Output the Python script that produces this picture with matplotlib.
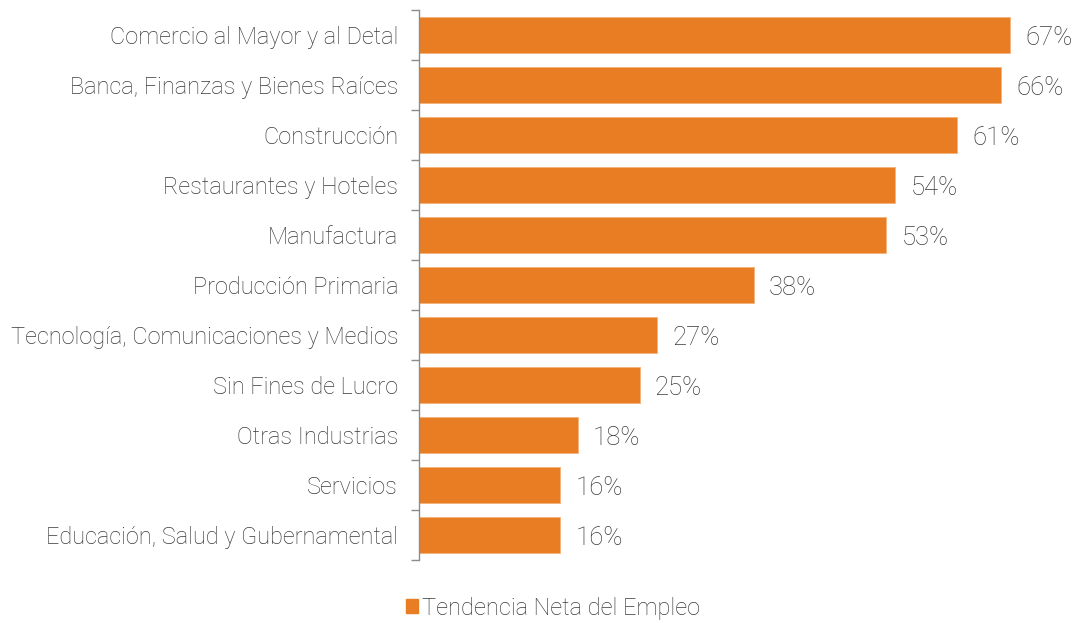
import matplotlib
matplotlib.use("Agg")
import matplotlib.pyplot as plt
from matplotlib.patches import Patch

categories = [
    "Comercio al Mayor y al Detal",
    "Banca, Finanzas y Bienes Raíces",
    "Construcción",
    "Restaurantes y Hoteles",
    "Manufactura",
    "Producción Primaria",
    "Tecnología, Comunicaciones y Medios",
    "Sin Fines de Lucro",
    "Otras Industrias",
    "Servicios",
    "Educación, Salud y Gubernamental",
]
values = [67, 66, 61, 54, 53, 38, 27, 25, 18, 16, 16]
series_name = "Tendencia Neta del Empleo"

orange = "#E87D24"
text_col = "#3a3a3a"
plt.rcParams["font.family"] = ["Roboto", "DejaVu Sans"]

fig = plt.figure(figsize=(10.77, 6.23), dpi=100)
ax = fig.add_axes([419 / 1077, 1 - 560 / 623, 1 - 419 / 1077, 550 / 623])

y = list(range(len(categories)))
ax.barh(y, values, height=0.72, color=orange, edgecolor="#f4b27a", linewidth=0.6)
ax.set_ylim(len(categories) - 0.5, -0.5)
ax.set_xlim(0, 74.6)

for yi, v in zip(y, values):
    ax.annotate(f"{v}%", (v, yi), xytext=(15, -3), textcoords="offset pixels",
                va="center", ha="left", fontsize=18.5, color=text_col, fontweight="light")

ax.set_yticks(y)
ax.set_yticklabels(categories, fontsize=16.9, color=text_col, fontweight="light")
ax.tick_params(axis="y", which="major", length=0, pad=15)
ax.set_yticks([i - 0.5 for i in range(len(categories) + 1)], minor=True)
ax.tick_params(axis="y", which="minor", length=6, color="#8c8c8c", width=1)
ax.set_xticks([])
for s in ["top", "right", "bottom"]:
    ax.spines[s].set_visible(False)
ax.spines["left"].set_color("#8c8c8c")
ax.spines["left"].set_linewidth(1)

fig.legend(handles=[Patch(color=orange, label=series_name)], loc="center",
           bbox_to_anchor=(553 / 1077, 1 - 608 / 623), frameon=False,
           handlelength=0.5, handleheight=0.5, handletextpad=0.2,
           prop={"size": 17, "weight": "light"}, labelcolor=text_col)

fig.savefig("out.png", dpi=100)
